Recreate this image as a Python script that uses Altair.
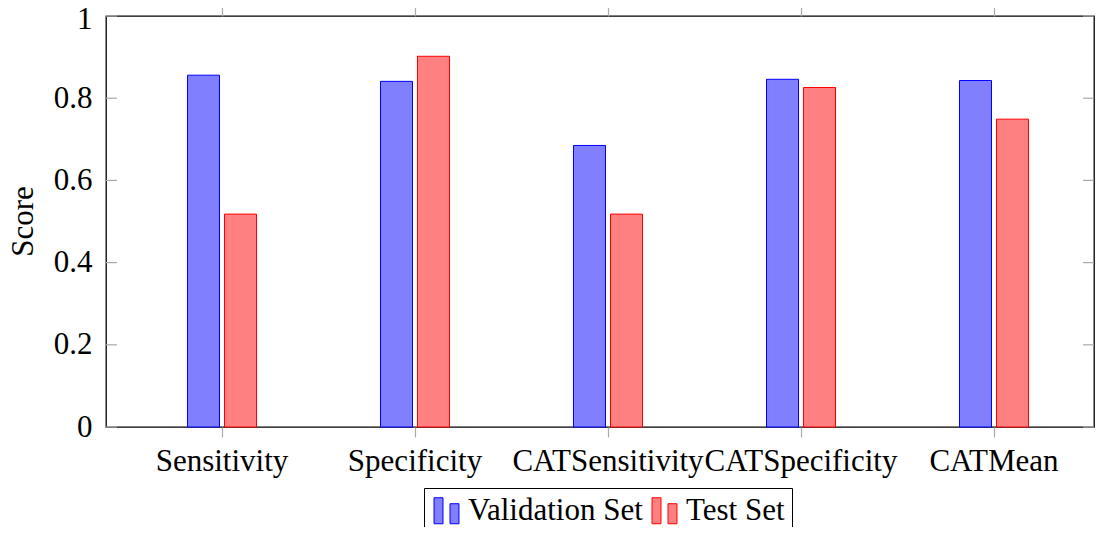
import altair as alt
import pandas as pd

categories = ["Sensitivity", "Specificity", "CATSensitivity", "CATSpecificity", "CATMean"]
series = ["Validation Set", "Test Set"]
validation = [0.856, 0.841, 0.685, 0.846, 0.843]
test = [0.518, 0.902, 0.518, 0.826, 0.749]
y_ticks = [0, 0.2, 0.4, 0.6, 0.8, 1.0]

fills = ["#8080ff", "#ff8080"]
strokes = ["#0000ff", "#ff0000"]

rows = []
for c, v, t in zip(categories, validation, test):
    rows.append({"category": c, "series": series[0], "value": v})
    rows.append({"category": c, "series": series[1], "value": t})
df = pd.DataFrame(rows)
df_cat = pd.DataFrame({"category": categories})
df_yt = pd.DataFrame({"value": y_ticks})

FONT = "Liberation Serif"
W, H = 988, 411

xscale = alt.Scale(domain=categories, paddingInner=0, paddingOuter=0.0596, align=0.848)
yscale = alt.Scale(domain=[0, 1], nice=False)

icon = "M-0.96,-1H-0.27V1H-0.96Z M0.27,-0.54H0.96V1H0.27Z"

legend_kw = dict(title=None, orient="none", legendX=318, legendY=472,
                 direction="horizontal", columns=2,
                 symbolType=icon, symbolSize=676, symbolStrokeWidth=1,
                 labelFont=FONT, labelFontSize=31, labelColor="black",
                 labelOffset=6, columnPadding=6, padding=7,
                 strokeColor="black", fillColor="white", labelLimit=400)

yaxis = alt.Axis(values=y_ticks, format="~g", title="Score", labelFont=FONT,
                 labelFontSize=31, labelColor="black", labelPadding=14,
                 labelOffset={"condition": {"test": "datum.value >= 1", "value": 3}, "value": 0},
                 ticks=False, domain=False, grid=False,
                 titleFont=FONT, titleFontSize=31, titleFontWeight="normal",
                 titleColor="black", titleAngle=-90, titleAlign="center",
                 titleBaseline="middle", titleX=-83, titleY=205)

bars = alt.Chart(df).mark_bar(strokeWidth=1).encode(
    x=alt.X("category:N", sort=categories, scale=xscale,
            axis=alt.Axis(orient="bottom", title=None, labelAngle=0, labelFont=FONT,
                          labelFontSize=31, labelColor="black", labelPadding=9,
                          tickSize=10, tickColor="#aaaaaa", tickWidth=1.2, domain=False,
                          labelOverlap=False, labelLimit=400, grid=False)),
    xOffset=alt.XOffset("series:N", sort=series,
                        scale=alt.Scale(domain=series, range=[62, 131],
                                        paddingInner=0.135, paddingOuter=0)),
    y=alt.Y("value:Q", scale=yscale, axis=yaxis),
    fill=alt.Fill("series:N", sort=series, scale=alt.Scale(domain=series, range=fills),
                  legend=alt.Legend(**legend_kw)),
    stroke=alt.Stroke("series:N", sort=series, scale=alt.Scale(domain=series, range=strokes),
                      legend=alt.Legend(**legend_kw)),
)

top_axis = alt.Chart(df_cat).mark_point(opacity=0).encode(
    x=alt.X("category:N", sort=categories,
            axis=alt.Axis(orient="top", title=None, labels=False, tickSize=10,
                          tickColor="#aaaaaa", tickWidth=1.2, domain=False, grid=False)),
)

left_ticks = alt.Chart(df_yt).mark_rule(color="#aaaaaa", strokeWidth=1.2).encode(
    y=alt.Y("value:Q", scale=yscale, axis=yaxis),
    x=alt.value(0), x2=alt.value(11),
)
right_ticks = alt.Chart(df_yt).mark_rule(color="#aaaaaa", strokeWidth=1.2).encode(
    y=alt.Y("value:Q", scale=yscale, axis=yaxis),
    x=alt.value(W - 11), x2=alt.value(W),
)

chart = alt.layer(bars, top_axis, left_ticks, right_ticks).resolve_axis(
    x="independent"
).properties(
    width=W, height=H,
    background="white",
    autosize=alt.AutoSizeParams(type="none"),
    padding={"left": 98, "top": 8, "right": 1, "bottom": 100},
).configure_view(
    stroke="black", strokeWidth=1.3
)

chart.save("out.html", embed_options={"renderer": "svg", "actions": False})
